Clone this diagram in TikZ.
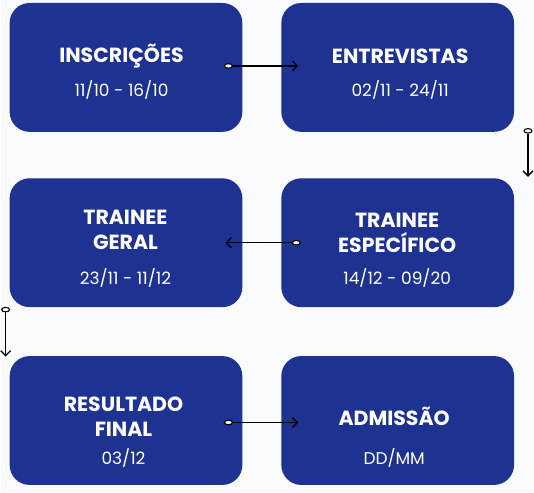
\documentclass[tikz,border=0pt]{standalone}
\usepackage{fontspec}
\setmainfont{Poppins}
\usetikzlibrary{shapes.geometric,arrows.meta,positioning}
\definecolor{stageblue}{RGB}{30,50,145}
\definecolor{pagebg}{RGB}{249,250,252}

\begin{document}
\begin{tikzpicture}[x=1pt, y=-1pt,
    stage/.style={rectangle, rounded corners=20pt, fill=stageblue, minimum width=233pt, minimum height=129pt, inner sep=0pt},
    title/.style={text=white, font=\fontsize{20.5}{25}\selectfont\bfseries, align=center},
    date/.style={text=white, font=\fontsize{17}{20}\selectfont},
    knob/.style={ellipse, draw=black, fill=white, line width=1.1pt, minimum width=8pt, minimum height=4.5pt, inner sep=0pt},
    arrow/.style={-{Straight Barb[length=5pt,width=10pt]}, line width=1.3pt, black}
]

% background and margins
\fill[pagebg] (0,0) rectangle (534,493);

% Row 1
\node[stage] (insc) at (125.5, 67.5) {};
\node[stage] (entr) at (397.5, 67.5) {};
\node[title] (insc_t) at (121, 56) {INSCRIÇÕES};
\node[date] (insc_d) at (121, 90) {11/10 - 16/10};
\node[title] (entr_t) at (400, 56) {ENTREVISTAS};
\node[date] (entr_d) at (400, 90) {02/11 - 24/11};

% Row 2
\node[stage] (geral) at (125.5, 243) {};
\node[stage] (espec) at (397.5, 243) {};
\node[title] (geral_t) at (125, 230.5) {TRAINEE\\GERAL};
\node[date] (geral_d) at (125, 278) {23/11 - 11/12};
\node[title] (espec_t) at (397, 233) {TRAINEE\\ESPECÍFICO};
\node[date] (espec_d) at (397, 278) {14/12 - 09/20};

% Row 3
\node[stage] (result) at (125.5, 421) {};
\node[stage] (admis) at (397.5, 421) {};
\node[title] (result_t) at (123, 417.5) {RESULTADO\\FINAL};
\node[date] (result_d) at (123, 458) {03/12};
\node[title] (admis_t) at (394, 417) {ADMISSÃO};
\node[date] (admis_d) at (394, 458) {DD/MM};

% Connectors
\coordinate (e1) at (298, 66);
\coordinate (e2) at (528, 177);
\coordinate (e3) at (225, 243);
\coordinate (e4) at (5, 357);
\coordinate (e5) at (298, 423);

\node[knob] (k1) at (228, 66) {};
\node[knob] (k2) at (528, 131) {};
\node[knob] (k3) at (296, 243) {};
\node[knob] (k4) at (5, 310) {};
\node[knob] (k5) at (228, 423) {};

\draw[arrow] (k1) -- (e1);
\draw[arrow] (k2) -- (e2);
\draw[arrow] (k3) -- (e3);
\draw[arrow] (k4) -- (e4);
\draw[arrow] (k5) -- (e5);

\end{tikzpicture}
\end{document}
